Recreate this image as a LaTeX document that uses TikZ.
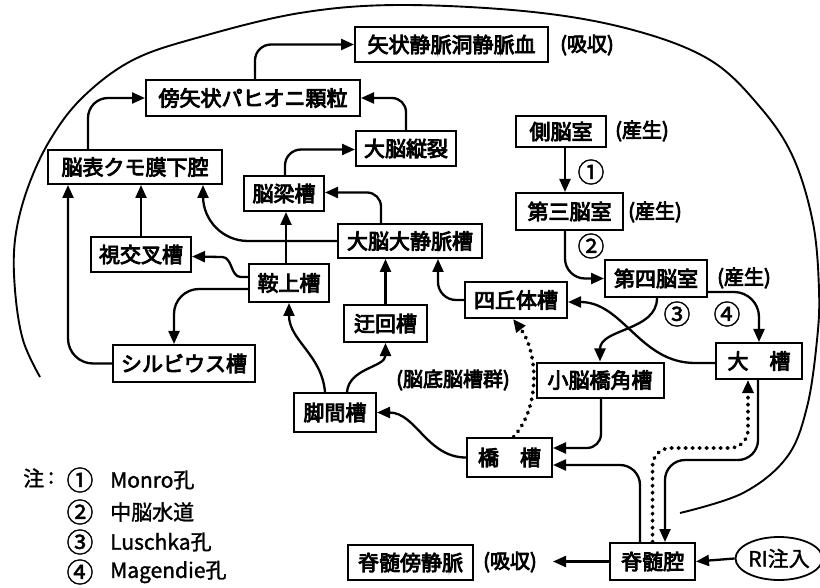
\documentclass[tikz,border=0pt]{standalone}
\usepackage{fontspec}
\newfontfamily\cjkb{Noto Sans CJK JP}[FakeBold=4]
\newfontfamily\cjkm{Noto Sans CJK JP}[FakeBold=1.5]
\usetikzlibrary{arrows.meta,shapes.geometric}
\begin{document}
\begin{tikzpicture}[x=1pt,y=1pt,
  box/.style={draw, line width=2pt, fill=white, inner sep=0pt,
    font=\cjkb\fontsize{21}{24}\selectfont, text height=18pt, text depth=2pt},
  oval/.style={draw, ellipse, line width=1.8pt, fill=white, inner sep=0pt,
    minimum width=82pt, minimum height=43pt,
    font=\cjkm\fontsize{21}{24}\selectfont, text height=18pt, text depth=2pt},
  lbl/.style={inner sep=0pt, font=\cjkb\fontsize{20}{24}\selectfont},
  num/.style={inner sep=0pt, font=\cjkm\fontsize{27}{30}\selectfont},
  leg/.style={inner sep=0pt, anchor=west, font=\cjkm\fontsize{21}{24}\selectfont},
  arr/.style={line width=2.3pt, -{Triangle[length=13pt,width=11pt]}},
  dots/.style={line width=3.8pt, dash pattern=on 0.6pt off 6.4pt, line cap=round,
    -{Triangle[length=13pt,width=11pt]}}]
\useasboundingbox (0,0) rectangle (820,-588);

% outer curve
\draw[line width=1.9pt] plot[smooth, tension=0.6] coordinates {
 (40,-377) (23,-340) (15,-290) (15,-240) (27,-190) (50,-140) (83,-97)
 (133,-60) (200,-37) (300,-13) (400,-5) (533,-12) (633,-30) (710,-60)
 (760,-107) (793,-157) (813,-223) (819,-290) (817,-340) (807,-407)
 (787,-457) (743,-493) (680,-513)};

% nodes
\node[box, minimum width=193pt, minimum height=35pt] (sag) at (451.5,-44.5) {矢状静脈洞静脈血};
\node[lbl] (sagl) at (587,-45) {(吸収)};
\node[box, minimum width=214pt, minimum height=36pt] (para) at (253,-98) {傍矢状パヒオニ顆粒};
\node[box, minimum width=100pt, minimum height=35pt] (fiss) at (406,-148.5) {大脳縦裂};
\node[box, minimum width=174pt, minimum height=34pt] (surf) at (135,-167) {脳表クモ膜下腔};
\node[box, minimum width=80pt, minimum height=35pt] (corp) at (284,-193.5) {脳梁槽};
\node[box, minimum width=144pt, minimum height=34pt] (vgal) at (410,-241) {大脳大静脈槽};
\node[box, minimum width=100pt, minimum height=35pt] (opt) at (141,-254.5) {視交叉槽};
\node[box, minimum width=80pt, minimum height=38pt] (supra) at (289,-283) {鞍上槽};
\node[box, minimum width=83pt, minimum height=37pt] (amb) at (385.5,-323.5) {迂回槽};
\node[box, minimum width=102pt, minimum height=36pt] (quad) at (516,-300) {四丘体槽};
\node[box, minimum width=142pt, minimum height=37pt] (sylv) at (184,-363.5) {シルビウス槽};
\node[box, minimum width=82pt, minimum height=39pt] (inter) at (335,-412.5) {脚間槽};
\node[lbl] (basal) at (453,-380) {(脳底脳槽群)};
\node[box, minimum width=127pt, minimum height=35pt] (cpa) at (600,-380) {小脳橋角槽};
\node[box, minimum width=85pt, minimum height=39pt] (pont) at (509.5,-457.5) {橋　槽};
\node[box, minimum width=90pt, minimum height=31pt] (lat) at (561,-131.5) {側脳室};
\node[lbl] (latl) at (642,-131) {(産生)};
\node[box, minimum width=107pt, minimum height=37pt] (third) at (569.5,-211.5) {第三脳室};
\node[lbl] (thirdl) at (655,-212) {(産生)};
\node[box, minimum width=102pt, minimum height=37pt] (fourth) at (656,-278.5) {第四脳室};
\node[lbl] (fourthl) at (744,-278) {(産生)};
\node[box, minimum width=86pt, minimum height=36pt] (magna) at (759,-361) {大　槽};
\node[box, minimum width=85pt, minimum height=37pt] (spinal) at (652.5,-561.5) {脊髄腔};
\node[oval] (ri) at (779,-558.5) {RI注入};
\node[box, minimum width=125pt, minimum height=35pt] (spv) at (410.5,-562.5) {脊髄傍静脈};
\node[lbl] (spvl) at (510,-562) {(吸収)};
\coordinate (absend) at (553,-561.5);

% circled numbers
\node[num] (c1) at (591,-172) {①};
\node[num] (c2) at (591,-246) {②};
\node[num] (c3) at (677,-314) {③};
\node[num] (c4) at (727,-314) {④};

% legend
\node[leg] (note) at (23,-478) {注};
\node[leg] (colon) at (48,-478) {:};
\node[num] (l1) at (80,-480) {①};
\node[num] (l2) at (80,-512) {②};
\node[num] (l3) at (80,-542) {③};
\node[num] (l4) at (80,-572) {④};
\node[leg] (t1) at (110,-480) {Monro孔};
\node[leg] (t2) at (110,-512) {中脳水道};
\node[leg] (t3) at (110,-542) {Luschka孔};
\node[leg] (t4) at (110,-572) {Magendie孔};

% connectors
\draw[arr, rounded corners=16pt] ([xshift=2pt]para.north) |- (sag.west);
\draw[arr, rounded corners=20pt] ([xshift=-47pt]surf.north) |- (para.west);
\draw[arr, rounded corners=14pt] (fiss.north) |- (para.east);
\draw[arr, rounded corners=16pt] ([xshift=1pt]corp.north) |- ([yshift=-1pt]fiss.west);
\draw[arr, rounded corners=14pt] ([xshift=-29pt]vgal.north) |- ([yshift=1pt]corp.east);
\draw[arr, rounded corners=45pt] (vgal.west) -| ([xshift=68pt]surf.south);
\draw[arr] (opt.north) -- (opt.north |- surf.south);
\draw[arr, rounded corners=25pt] (sylv.west) -| ([xshift=-67pt]surf.south);
\draw[arr] ([yshift=6pt]supra.west) -- ++(-7,0) to[out=180,in=0] (222,-257) -- ([yshift=-2pt]opt.east);
\draw[arr, rounded corners=25pt] ([yshift=-6pt]supra.west) -| ([xshift=-10pt]sylv.north);
\draw[arr] ([xshift=-3pt]supra.north) -- ([xshift=2pt]corp.south);
\draw[arr] ([xshift=-10pt]inter.north) to[out=95,in=-90] (supra.south);
\draw[arr] ([xshift=12pt]inter.north) to[out=85,in=-90] (amb.south);
\draw[arr] (amb.north) -- ([xshift=-24.5pt]vgal.south);
\draw[arr, rounded corners=18pt] (quad.west) -| ([xshift=28pt]vgal.south);
\draw[arr] ([yshift=-2pt]magna.west) -- ++(-20,0) to[out=180,in=0] ([yshift=-2pt]quad.east);
\draw[arr] ([xshift=1pt]fourth.south) to[out=-90,in=90] (cpa.north);
\draw[arr, rounded corners=25pt] ([yshift=-13.5pt]fourth.east) -| (magna.north);
\draw[arr, rounded corners=20pt] ([xshift=-4.5pt]third.south) |- (fourth.west);
\draw[arr] ([xshift=4pt]lat.south) -- ([xshift=-4.5pt]third.north);
\draw[arr, rounded corners=14pt] ([xshift=1pt]cpa.south) |- ([yshift=9.5pt]pont.east);
\draw[arr, rounded corners=20pt] ([xshift=-12.5pt]spinal.north) |- ([yshift=-7.5pt]pont.east);
\draw[arr, rounded corners=20pt] ([xshift=-1pt]magna.south) |- (665,-460) -- ([xshift=12.5pt]spinal.north);
\draw[dots, rounded corners=18pt] (spinal.north) |- (748,-448) -- ([xshift=-11pt]magna.south);
\draw[arr] (pont.west) to[out=180,in=0] (inter.east);
\draw[dots] ([xshift=4pt]pont.north) .. controls (542,-405) and (537,-350) .. ([xshift=-3pt]quad.south);
\draw[arr] (spinal.west) -- (absend);
\draw[arr] (ri.west) -- (spinal.east);
\end{tikzpicture}
\end{document}
